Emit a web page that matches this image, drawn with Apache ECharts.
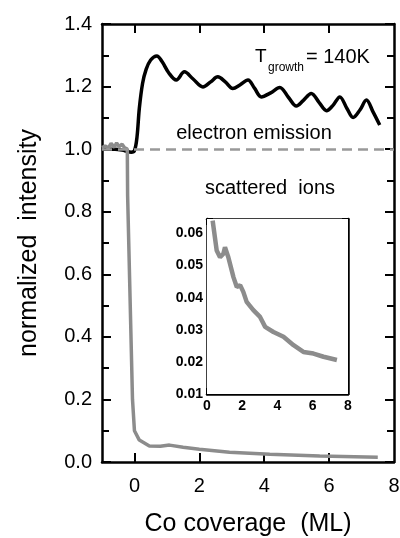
<!DOCTYPE html>
<html>
<head>
<meta charset="utf-8">
<script src="https://cdn.jsdelivr.net/npm/echarts@6/dist/echarts.min.js"></script>
<style>
html,body{margin:0;padding:0;background:#fff}
#chart{width:400px;height:538px}
</style>
</head>
<body>
<div id="chart"></div>
<script>
// electron emission, normalized (black)
var emission = [
    [-1, 1.0], [-0.6, 1.0], [-0.3, 0.995], [-0.1, 0.99], [0.0, 0.995], [0.08, 1.04],
    [0.15, 1.13], [0.25, 1.21], [0.36, 1.255], [0.5, 1.285], [0.69, 1.298], [0.85, 1.28],
    [1.05, 1.245], [1.29, 1.221], [1.54, 1.247], [1.8, 1.225], [2.11, 1.199], [2.35, 1.215],
    [2.57, 1.231], [2.8, 1.215], [3.03, 1.194], [3.25, 1.205], [3.5, 1.221], [3.7, 1.195],
    [3.91, 1.167], [4.2, 1.18], [4.48, 1.197], [4.75, 1.165], [4.99, 1.138], [5.2, 1.155],
    [5.45, 1.178], [5.7, 1.148], [5.92, 1.123], [6.12, 1.14], [6.33, 1.167], [6.55, 1.13],
    [6.74, 1.101], [6.95, 1.125], [7.15, 1.157], [7.35, 1.12], [7.56, 1.077]
];
// scattered ions, normalized (gray)
var ions = [
    [-1, 1.005], [-0.9, 1.01], [-0.8, 1.004], [-0.72, 1.018], [-0.62, 1.006], [-0.55, 1.02],
    [-0.47, 1.008], [-0.38, 1.016], [-0.3, 1.004], [-0.22, 1.0], [-0.21, 0.85], [-0.06, 0.2],
    [0.0, 0.1], [0.15, 0.07], [0.46, 0.051], [0.8, 0.05], [1.08, 0.054], [1.5, 0.047],
    [2.0, 0.041], [2.93, 0.031], [4.17, 0.025], [5.71, 0.019], [7.5, 0.015]
];
// inset, scattered ions x30
var ionsZoom = [
    [0.32, 0.064], [0.55, 0.0547], [0.74, 0.0526], [0.93, 0.0537], [1.02, 0.0557], [1.21, 0.0526],
    [1.5, 0.0464], [1.69, 0.0433], [1.88, 0.0439], [2.06, 0.0418], [2.25, 0.0387], [2.63, 0.0361],
    [3.01, 0.034], [3.3, 0.0309], [3.77, 0.0293], [4.34, 0.0278], [4.91, 0.0252], [5.47, 0.0231],
    [6.04, 0.0226], [6.61, 0.0216], [7.37, 0.0206]
];
var refLevel = 1.0;
var mainTicksX = [0, 2, 4, 6];
var mainLabelsX = [0, 2, 4, 6, 8];

var font = 'Arial, "Liberation Sans", sans-serif';
var axisLine = {onZero: false, lineStyle: {color: '#000', width: 2.5}};

function xAx(grid, pos, opts) {
    var a = {
        gridIndex: grid, type: 'value', position: pos,
        axisLine: axisLine,
        axisTick: {inside: true, length: grid ? 6 : 9, lineStyle: {color: '#000', width: 2}},
        axisLabel: {show: false},
        splitLine: {show: false}
    };
    return echarts.util.merge(a, opts || {}, true);
}
function yAx(grid, pos, opts) {
    var a = {
        gridIndex: grid, type: 'value', position: pos,
        axisLine: axisLine,
        axisTick: {inside: true, length: grid ? 6 : 9, lineStyle: {color: '#000', width: 2}},
        minorTick: {show: true, splitNumber: 2, length: grid ? 5 : 7, lineStyle: {color: '#000', width: 2}},
        axisLabel: {show: false},
        splitLine: {show: false}
    };
    return echarts.util.merge(a, opts || {}, true);
}

var option = {
    animation: false,
    textStyle: {fontFamily: font},
    grid: [
        {left: 102, right: 6, top: 24, bottom: 76, outerBoundsMode: 'none', containLabel: false},
        {left: 207, top: 219, width: 141, height: 175, outerBoundsMode: 'none', containLabel: false}
    ],
    xAxis: [
        xAx(0, 'bottom', {
            min: -1, max: 8,
            axisTick: {customValues: mainTicksX},
            axisLabel: {show: true, customValues: mainLabelsX, fontSize: 20, margin: 14, color: '#000'},
            name: 'Co coverage  (ML)', nameLocation: 'middle', nameGap: 50,
            nameTextStyle: {fontSize: 25, color: '#000'}
        }),
        xAx(0, 'top', {min: -1, max: 8, axisTick: {customValues: mainTicksX}}),
        xAx(1, 'bottom', {
            min: 0, max: 8, interval: 2,
            axisLabel: {show: true, fontSize: 14, margin: 5, color: '#000', fontWeight: 'bold'}
        }),
        xAx(1, 'top', {min: 0, max: 8, interval: 2})
    ],
    yAxis: [
        yAx(0, 'left', {
            min: 0, max: 1.4, interval: 0.2,
            axisLabel: {show: true, fontSize: 20, margin: 10, color: '#000',
                formatter: function (v) { return v.toFixed(1); }},
            name: 'normalized  intensity', nameLocation: 'middle', nameGap: 60,
            nameTextStyle: {fontSize: 25, color: '#000'}
        }),
        yAx(0, 'right', {min: 0, max: 1.4, interval: 0.2}),
        yAx(1, 'left', {
            min: 0.01, max: 0.0645, interval: 0.01,
            axisLabel: {show: true, fontSize: 14, margin: 4, color: '#000', fontWeight: 'bold', showMaxLabel: false,
                formatter: function (v) { return v.toFixed(2); }}
        }),
        yAx(1, 'right', {min: 0.01, max: 0.0645, interval: 0.01})
    ],
    series: [
        {
            name: 'electron emission', type: 'line', xAxisIndex: 0, yAxisIndex: 0,
            data: emission, smooth: 0.35, showSymbol: false,
            lineStyle: {color: '#000', width: 3.5},
            markLine: {
                silent: true, symbol: 'none', label: {show: false},
                lineStyle: {color: '#999', width: 2.5, type: [10, 6]},
                data: [{yAxis: refLevel}]
            },
            z: 2
        },
        {
            name: 'scattered ions', type: 'line', xAxisIndex: 0, yAxisIndex: 0,
            data: ions, showSymbol: false,
            lineStyle: {color: '#8c8c8c', width: 3.5},
            z: 3
        },
        {
            name: 'scattered ions x30', type: 'line', xAxisIndex: 2, yAxisIndex: 2,
            data: ionsZoom, showSymbol: false,
            lineStyle: {color: '#8c8c8c', width: 4.5},
            z: 3
        }
    ],
    graphic: [
        {type: 'rect', left: 207, top: 219, shape: {width: 141, height: 175}, style: {fill: '#fff'}, z: 1},
        {type: 'text', style: {x: 255, y: 57, text: 'T', fontSize: 19, fontFamily: font, fill: '#000', verticalAlign: 'middle'}},
        {type: 'text', style: {x: 268, y: 68, text: 'growth', fontSize: 12, fontFamily: font, fill: '#000', verticalAlign: 'middle'}},
        {type: 'text', style: {x: 306, y: 57, text: '= 140K', fontSize: 20, fontFamily: font, fill: '#000', verticalAlign: 'middle'}},
        {type: 'text', style: {x: 254, y: 133, text: 'electron emission', fontSize: 20, fontFamily: font, fill: '#000', align: 'center', verticalAlign: 'middle'}},
        {type: 'text', style: {x: 270, y: 188, text: 'scattered  ions', fontSize: 20, fontFamily: font, fill: '#000', align: 'center', verticalAlign: 'middle'}},
        {type: 'text', style: {x: 271, y: 268, text: 'X 30', fontSize: 16, fontFamily: font, fill: '#000', verticalAlign: 'middle'}}
    ]
};

var chart = echarts.init(document.getElementById('chart'));
chart.setOption(option);
</script>
</body>
</html>
